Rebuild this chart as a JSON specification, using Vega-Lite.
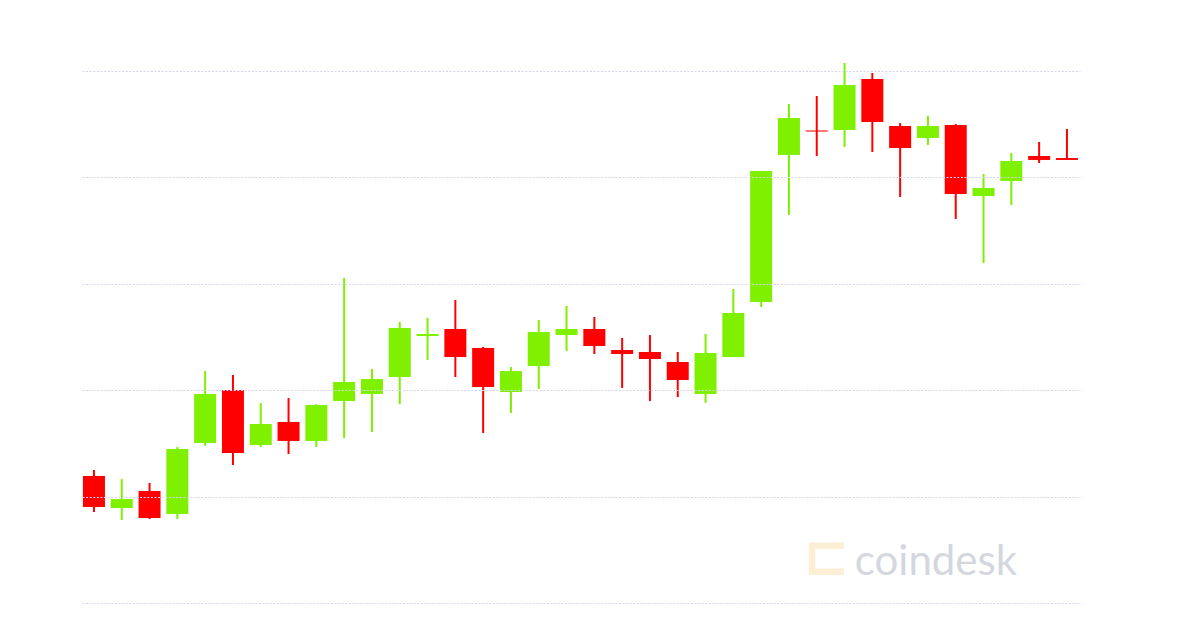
{
  "$schema": "https://vega.github.io/schema/vega-lite/v6.json",
  "autosize": {"type": "none"},
  "padding": {"left": 82, "top": 71, "right": 120, "bottom": 25},
  "width": 998,
  "height": 532,
  "background": "white",
  "config": {"view": {"stroke": null}},
  "datasets": {
    "candles": [
      {"i": 0, "open": 119.4, "close": 90.2, "high": 125.0, "low": 85.5},
      {"i": 1, "open": 89.3, "close": 97.7, "high": 116.5, "low": 78.0},
      {"i": 2, "open": 105.3, "close": 79.9, "high": 112.8, "low": 78.9},
      {"i": 3, "open": 83.6, "close": 144.7, "high": 146.6, "low": 78.9},
      {"i": 4, "open": 150.4, "close": 196.4, "high": 218.0, "low": 147.6},
      {"i": 5, "open": 200.2, "close": 141.0, "high": 214.3, "low": 129.7},
      {"i": 6, "open": 148.5, "close": 168.2, "high": 188.0, "low": 146.6},
      {"i": 7, "open": 170.1, "close": 152.3, "high": 192.7, "low": 140.0},
      {"i": 8, "open": 152.3, "close": 186.1, "high": 187.0, "low": 146.6},
      {"i": 9, "open": 189.8, "close": 207.7, "high": 305.5, "low": 155.1},
      {"i": 10, "open": 196.4, "close": 210.5, "high": 219.9, "low": 160.7},
      {"i": 11, "open": 212.4, "close": 258.5, "high": 264.1, "low": 187.0},
      {"i": 12, "open": 250.9, "close": 252.8, "high": 267.9, "low": 228.4},
      {"i": 13, "open": 257.5, "close": 231.2, "high": 284.8, "low": 212.4},
      {"i": 14, "open": 239.7, "close": 203.0, "high": 240.6, "low": 159.8},
      {"i": 15, "open": 198.3, "close": 218.0, "high": 221.8, "low": 178.6},
      {"i": 16, "open": 222.7, "close": 254.7, "high": 266.0, "low": 201.1},
      {"i": 17, "open": 251.9, "close": 257.5, "high": 279.1, "low": 236.8},
      {"i": 18, "open": 257.5, "close": 241.5, "high": 268.8, "low": 234.0},
      {"i": 19, "open": 237.8, "close": 234.0, "high": 249.1, "low": 202.1},
      {"i": 20, "open": 235.9, "close": 229.3, "high": 251.9, "low": 189.8},
      {"i": 21, "open": 226.5, "close": 209.6, "high": 235.9, "low": 193.6},
      {"i": 22, "open": 196.4, "close": 235.0, "high": 252.8, "low": 188.0},
      {"i": 23, "open": 231.2, "close": 272.6, "high": 295.1, "low": 231.2},
      {"i": 24, "open": 282.9, "close": 406.0, "high": 406.0, "low": 278.2},
      {"i": 25, "open": 421.1, "close": 455.8, "high": 469.0, "low": 364.7},
      {"i": 26, "open": 444.1, "close": 443.1, "high": 476.5, "low": 420.1},
      {"i": 27, "open": 444.5, "close": 486.8, "high": 507.5, "low": 428.6},
      {"i": 28, "open": 492.5, "close": 452.1, "high": 498.1, "low": 423.9},
      {"i": 29, "open": 448.3, "close": 427.6, "high": 451.1, "low": 381.6},
      {"i": 30, "open": 437.0, "close": 448.3, "high": 457.7, "low": 430.5},
      {"i": 31, "open": 449.2, "close": 384.4, "high": 450.2, "low": 360.9},
      {"i": 32, "open": 382.5, "close": 390.0, "high": 403.2, "low": 319.5},
      {"i": 33, "open": 396.6, "close": 415.4, "high": 422.9, "low": 374.1},
      {"i": 34, "open": 420.1, "close": 416.4, "high": 433.3, "low": 413.5},
      {"i": 35, "open": 418.2, "close": 416.4, "high": 445.5, "low": 416.4}
    ],
    "brand": [
      {"i": 27.37, "v": 26.3, "label": "coindesk"}
    ],
    "logo": [
      {"i": 26.35, "v": 42.3, "label": "⊏"}
    ]
  },
  "layer": [
    {
      "data": {"name": "logo"},
      "mark": {"type": "text", "font": "DejaVu Sans", "fontSize": 56, "fontWeight": "bold", "color": "#fcefd6", "align": "center", "baseline": "middle"},
      "encoding": {
        "x": {"field": "i", "type": "quantitative", "scale": {"domain": [-0.43, 35.47], "nice": false, "zero": false, "padding": 0}, "axis": null},
        "y": {"field": "v", "type": "quantitative", "scale": {"domain": [0, 500], "nice": false, "padding": 0}},
        "text": {"field": "label"}
      }
    },
    {
      "data": {"name": "brand"},
      "mark": {"type": "text", "font": "Lato", "fontSize": 42, "color": "#d4d7de", "align": "left", "baseline": "alphabetic"},
      "encoding": {
        "x": {"field": "i", "type": "quantitative"},
        "y": {"field": "v", "type": "quantitative"},
        "text": {"field": "label"}
      }
    },
    {
      "data": {"name": "candles"},
      "mark": {"type": "rule", "strokeWidth": 2},
      "encoding": {
        "x": {"field": "i", "type": "quantitative"},
        "y": {"field": "low", "type": "quantitative"},
        "y2": {"field": "high"},
        "color": {"condition": {"test": "datum.close >= datum.open", "value": "#7ef000"}, "value": "#ff0000"}
      }
    },
    {
      "data": {"name": "candles"},
      "mark": {"type": "bar", "size": 22},
      "encoding": {
        "x": {"field": "i", "type": "quantitative"},
        "y": {"field": "open", "type": "quantitative", "axis": {"grid": true, "gridColor": "#d4d4f0", "gridDash": [2, 1.6], "gridWidth": 1, "labels": false, "ticks": false, "domain": false, "title": null, "values": [0, 100, 200, 300, 400, 500], "zindex": 1}},
        "y2": {"field": "close"},
        "color": {"condition": {"test": "datum.close >= datum.open", "value": "#7ef000"}, "value": "#ff0000"}
      }
    }
  ]
}
